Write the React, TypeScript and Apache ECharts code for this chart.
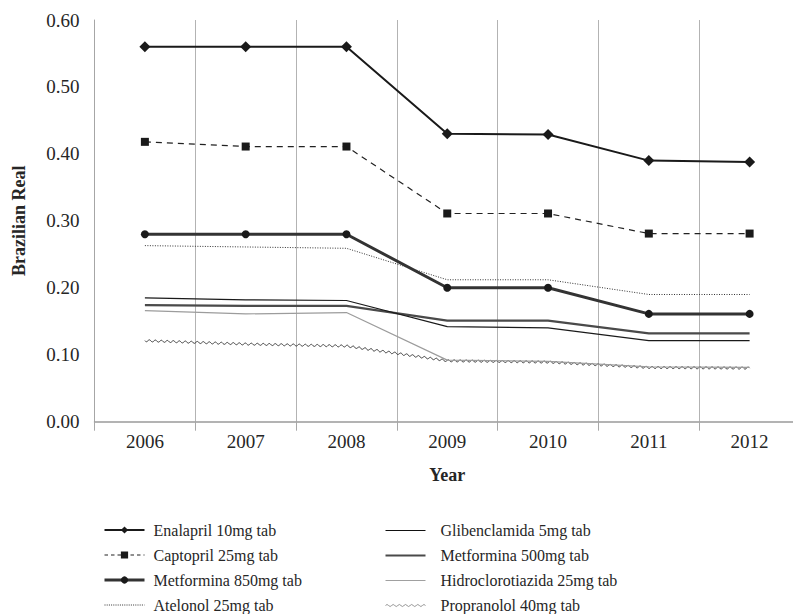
import React, { useEffect, useRef } from "react";
import * as echarts from "echarts";

const years = ["2006", "2007", "2008", "2009", "2010", "2011", "2012"];
const enalapril = [0.56, 0.56, 0.56, 0.43, 0.429, 0.39, 0.388];
const captopril = [0.418, 0.411, 0.411, 0.311, 0.311, 0.281, 0.281];
const metformina850 = [0.28, 0.28, 0.28, 0.2, 0.2, 0.161, 0.161];
const atelonol = [0.263, 0.261, 0.259, 0.212, 0.212, 0.19, 0.19];
const glibenclamida = [0.185, 0.182, 0.181, 0.142, 0.14, 0.121, 0.121];
const metformina500 = [0.174, 0.173, 0.173, 0.151, 0.151, 0.132, 0.132];
const hidroclorotiazida = [0.166, 0.161, 0.163, 0.092, 0.09, 0.082, 0.081];
const propranolol = [0.121, 0.116, 0.113, 0.091, 0.089, 0.081, 0.08];

const yMin = 0;
const yMax = 0.6;
const yInterval = 0.1;

const names = [
  "Enalapril 10mg tab",
  "Captopril 25mg tab",
  "Metformina 850mg tab",
  "Atelonol 25mg tab",
  "Glibenclamida 5mg tab",
  "Metformina 500mg tab",
  "Hidroclorotiazida 25mg tab",
  "Propranolol 40mg tab",
];

const FONT = "'Liberation Serif', 'DejaVu Serif', serif";
const TEXT = "#262626";

function wavePathIcon(): string {
  const half = 1.5;
  const n = 13;
  let d = "M0 2";
  for (let k = 0; k < n; k++) {
    const x0 = k * half;
    const cy = k % 2 === 0 ? 1 : 3;
    d += ` Q${x0 + half / 2} ${cy} ${x0 + half} 2`;
  }
  return "path://" + d;
}

export default function App() {
  const ref = useRef<HTMLDivElement>(null);

  useEffect(() => {
    if (!ref.current) return;
    const chart = echarts.init(ref.current, undefined, { renderer: "svg" });

    const waveAmp = 1.0;
    const waveLen = 6;

    const lineBase = {
      type: "line",
      silent: true,
      showSymbol: true,
      emphasis: { disabled: true },
    };

    const hidden = { color: "rgba(0,0,0,0)", borderWidth: 0, opacity: 0 };

    const legendCommon = {
      orient: "vertical",
      padding: 0,
      itemWidth: 40,
      itemHeight: 9,
      itemGap: 9,
      selectedMode: false,
    };

    const option: any = {
      animation: false,
      grid: {
        left: 94.5,
        top: 20,
        width: 705.5,
        height: 401.7,
        outerBoundsMode: "none",
      },
      xAxis: {
        type: "category",
        data: years,
        boundaryGap: true,
        name: "Year",
        nameLocation: "middle",
        nameGap: 44,
        nameTextStyle: { fontFamily: FONT, fontSize: 18, fontWeight: "bold", color: TEXT },
        axisLine: { show: true, lineStyle: { color: "#9a9a9a", width: 1.5 } },
        axisTick: { show: true, length: 9, interval: 0, lineStyle: { color: "#a8a8a8", width: 1 } },
        axisLabel: { fontFamily: FONT, fontSize: 19, color: TEXT, margin: 10, interval: 0 },
        splitLine: { show: true, interval: 0, lineStyle: { color: "#b3b3b3", width: 1 } },
      },
      yAxis: {
        type: "value",
        min: yMin,
        max: yMax,
        interval: yInterval,
        name: "Brazilian Real",
        nameLocation: "middle",
        nameGap: 67,
        nameTextStyle: { fontFamily: FONT, fontSize: 18, fontWeight: "bold", color: TEXT },
        axisLine: { show: true, lineStyle: { color: "#a6a6a6", width: 1 } },
        axisTick: { show: false },
        axisLabel: {
          fontFamily: FONT,
          fontSize: 19,
          color: TEXT,
          margin: 15,
          formatter: (v: number) => v.toFixed(2),
        },
        splitLine: { show: false },
      },
      legend: [
        {
          ...legendCommon,
          left: 103,
          top: 522,
          textStyle: { fontFamily: FONT, fontSize: 16, color: TEXT, lineHeight: 16, padding: [0, 0, 0, 4] },
          data: [
            {
              name: names[0],
              lineStyle: { width: 2, color: "#1a1a1a", type: "solid" },
              itemStyle: { color: "#1a1a1a", borderWidth: 0 },
            },
            {
              name: names[1],
              lineStyle: { width: 1.2, color: "#222", type: [3.5, 3] },
              itemStyle: { color: "#1a1a1a", borderWidth: 0 },
            },
            {
              name: names[2],
              lineStyle: { width: 3, color: "#333", type: "solid" },
              itemStyle: { color: "#1a1a1a", borderWidth: 0 },
            },
            {
              name: names[3],
              lineStyle: { width: 1, color: "#333", type: [1, 1.2] },
              itemStyle: hidden,
            },
          ],
        },
        {
          ...legendCommon,
          left: 383,
          top: 522.5,
          textStyle: { fontFamily: FONT, fontSize: 16, color: TEXT, lineHeight: 16, padding: [0, 0, 0, 10] },
          data: [
            {
              name: names[4],
              lineStyle: { width: 1, color: "#111", type: "solid" },
              itemStyle: hidden,
            },
            {
              name: names[5],
              lineStyle: { width: 2, color: "#4a4a4a", type: "solid" },
              itemStyle: hidden,
            },
            {
              name: names[6],
              lineStyle: { width: 1, color: "#a0a0a0", type: "solid" },
              itemStyle: hidden,
            },
            {
              name: names[7],
              icon: wavePathIcon(),
              itemStyle: { color: "none", borderColor: "#8a8a8a", borderWidth: 0.9, opacity: 1 },
            },
          ],
        },
      ],
      series: [
        {
          ...lineBase,
          name: names[7],
          type: "custom",
          data: propranolol.map((v, i) => [i, v]),
          z: 2,
          renderItem: (params: any, api: any) => {
            if (params.dataIndex !== 0) return null;
            const pts = propranolol.map((v, i) => api.coord([i, v]));
            const wave: number[][] = [];
            let s = 0;
            for (let k = 0; k < pts.length - 1; k++) {
              const [x0, y0] = pts[k];
              const [x1, y1] = pts[k + 1];
              const dx = x1 - x0;
              const dy = y1 - y0;
              const len = Math.hypot(dx, dy);
              const nx = -dy / len;
              const ny = dx / len;
              const n = Math.ceil(len / 0.6);
              for (let j = k === 0 ? 0 : 1; j <= n; j++) {
                const t = j / n;
                const off = waveAmp * Math.sin((2 * Math.PI * (s + t * len)) / waveLen);
                wave.push([x0 + dx * t + nx * off, y0 + dy * t + ny * off]);
              }
              s += len;
            }
            return {
              type: "polyline",
              shape: { points: wave },
              style: { stroke: "#2a2a2a", lineWidth: 0.9, fill: "none" },
              silent: true,
            };
          },
          itemStyle: { color: "#2a2a2a" },
        },
        {
          ...lineBase,
          name: names[6],
          data: hidroclorotiazida,
          symbol: "none",
          lineStyle: { width: 1.2, color: "#9c9c9c" },
          itemStyle: { color: "#9c9c9c" },
          z: 3,
        },
        {
          ...lineBase,
          name: names[5],
          data: metformina500,
          symbol: "none",
          lineStyle: { width: 2.2, color: "#4a4a4a" },
          itemStyle: { color: "#4a4a4a" },
          z: 3,
        },
        {
          ...lineBase,
          name: names[4],
          data: glibenclamida,
          symbol: "none",
          lineStyle: { width: 1.2, color: "#1a1a1a" },
          itemStyle: { color: "#1a1a1a" },
          z: 3,
        },
        {
          ...lineBase,
          name: names[3],
          data: atelonol,
          symbol: "none",
          lineStyle: { width: 1, color: "#333", type: [1, 1.5] },
          itemStyle: { color: "#333" },
          z: 3,
        },
        {
          ...lineBase,
          name: names[2],
          data: metformina850,
          symbol: "circle",
          symbolSize: 8,
          lineStyle: { width: 3, color: "#333" },
          itemStyle: { color: "#1a1a1a" },
          z: 4,
        },
        {
          ...lineBase,
          name: names[1],
          data: captopril,
          symbol: "rect",
          symbolSize: 8,
          lineStyle: { width: 1.2, color: "#222", type: [6, 5] },
          itemStyle: { color: "#1a1a1a" },
          z: 4,
        },
        {
          ...lineBase,
          name: names[0],
          data: enalapril,
          symbol: "diamond",
          symbolSize: 11,
          lineStyle: { width: 2, color: "#1a1a1a" },
          itemStyle: { color: "#1a1a1a" },
          z: 5,
        },
      ],
    };

    chart.setOption(option);
    return () => chart.dispose();
  }, []);

  return (
    <div
      ref={ref}
      style={{ position: "fixed", left: 0, top: 0, width: 793, height: 614, background: "#fff" }}
    />
  );
}
